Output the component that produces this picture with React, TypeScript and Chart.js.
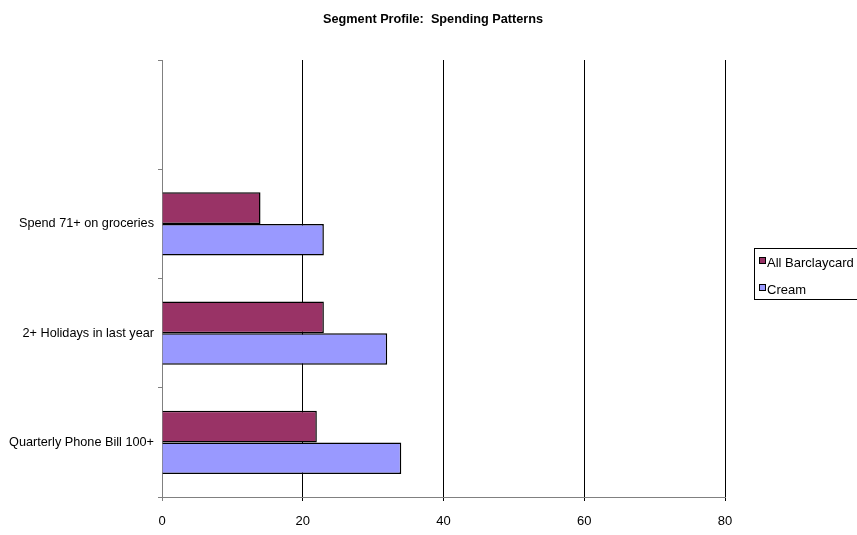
import React, { useEffect, useRef } from "react";
import { Chart, registerables } from "chart.js";

Chart.register(...registerables);

const categories = ["", "Spend 71+ on groceries", "2+ Holidays in last year", "Quarterly Phone Bill 100+"];
const allBarclaycard = [null, 14, 23, 22];
const cream = [null, 23, 32, 34];
const seriesNames = ["All Barclaycard", "Cream"];
const seriesColors = ["#993366", "#9999FF"];
const xTicks = [0, 20, 40, 60, 80];
const titleText = "Segment Profile:  Spending Patterns";

const FONT = "'Liberation Sans', Arial, sans-serif";

const overlayPlugin = {
  id: "overlay",
  afterDraw(chart: any) {
    const ctx = chart.ctx;
    ctx.save();
    // title
    ctx.fillStyle = "#000";
    ctx.font = `bold 12.7px ${FONT}`;
    ctx.textAlign = "center";
    ctx.textBaseline = "middle";
    ctx.fillText(titleText, 433, 19);
    // legend box
    ctx.strokeStyle = "#000";
    ctx.lineWidth = 1;
    ctx.strokeRect(754.5, 248.5, 130, 51);
    ctx.font = `13px ${FONT}`;
    ctx.textAlign = "left";
    chart.data.datasets.forEach((ds: any, i: number) => {
      const y = 262 + i * 27;
      ctx.fillStyle = ds.backgroundColor;
      ctx.fillRect(759, y - 5, 7, 7);
      ctx.strokeStyle = "#000";
      ctx.strokeRect(759.5, y - 4.5, 6, 6);
      ctx.fillStyle = "#000";
      ctx.fillText(ds.label, 767, y + 1);
    });
    ctx.restore();
  },
};

export default function App() {
  const ref = useRef<HTMLCanvasElement>(null);
  useEffect(() => {
    if (!ref.current) return;
    const chart = new Chart(ref.current, {
      type: "bar",
      data: {
        labels: categories,
        datasets: [
          {
            label: seriesNames[0],
            data: allBarclaycard as any,
            backgroundColor: seriesColors[0],
            borderColor: "#000",
            borderWidth: 1.5,
            categoryPercentage: 0.58,
            barPercentage: 1,
          },
          {
            label: seriesNames[1],
            data: cream as any,
            backgroundColor: seriesColors[1],
            borderColor: "#000",
            borderWidth: 1.5,
            categoryPercentage: 0.58,
            barPercentage: 1,
          },
        ],
      },
      options: {
        indexAxis: "y",
        animation: false,
        responsive: false,
        maintainAspectRatio: false,
        devicePixelRatio: 1,
        layout: { padding: { left: 0, right: 132, top: 60, bottom: 0 } },
        plugins: {
          legend: { display: false },
          title: { display: false },
          tooltip: { enabled: false },
        },
        scales: {
          x: {
            type: "linear",
            min: xTicks[0],
            max: xTicks[xTicks.length - 1],
            afterBuildTicks: (s: any) => {
              s.ticks = xTicks.map((v) => ({ value: v }));
            },
            afterFit: (s: any) => {
              s.height = 38;
            },
            ticks: {
              color: "#000",
              font: { family: FONT, size: 13 },
              padding: 13,
              maxRotation: 0,
            },
            grid: {
              color: (c: any) => (c.index === 0 ? "#808080" : "#000"),
              lineWidth: 1,
              drawTicks: true,
              tickLength: 4,
            },
            border: { display: true, color: "#808080", width: 1 },
          },
          y: {
            type: "category",
            afterFit: (s: any) => {
              s.width = 162;
            },
            ticks: {
              color: "#000",
              font: { family: FONT, size: 12.7 },
              padding: 4,
            },
            grid: {
              drawOnChartArea: false,
              drawTicks: true,
              tickLength: 4,
              color: "#808080",
              offset: true,
            },
            border: { display: true, color: "#808080", width: 1 },
          },
        },
      },
      plugins: [overlayPlugin],
    });
    return () => chart.destroy();
  }, []);
  return (
    <div style={{ position: "fixed", left: 0, top: 0, width: 857, height: 535, background: "#fff" }}>
      <canvas ref={ref} width={857} height={535} style={{ width: 857, height: 535, display: "block" }} />
    </div>
  );
}
